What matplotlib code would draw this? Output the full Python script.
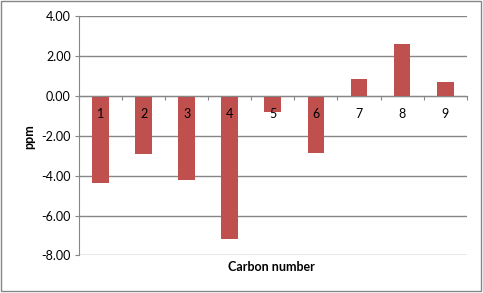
import matplotlib
matplotlib.use("Agg")
import matplotlib.pyplot as plt
import matplotlib.transforms as mtransforms
import numpy as np
from matplotlib.patches import Rectangle

# data
carbons = ["1", "2", "3", "4", "5", "6", "7", "8", "9"]
shifts = [-4.35, -2.93, -4.21, -7.16, -0.82, -2.88, 0.87, 2.64, 0.73]
y_ticks = [-8, -6, -4, -2, 0, 2, 4]

BAR = "#C0504D"
GREY = "#868686"

plt.rcParams["font.family"] = ["Lato", "DejaVu Sans"]

fig = plt.figure(figsize=(4.83, 2.93), dpi=100)
# outer chart border
fig.patches.append(Rectangle((0.003, 0.008), 0.992, 0.988, transform=fig.transFigure,
                             fill=False, edgecolor=GREY, linewidth=1.0))

ax = fig.add_axes([0.1636, 0.128, 0.8026, 0.816])
ax.set_axisbelow(True)
x = np.arange(len(carbons))
ax.bar(x, shifts, width=0.39, color=BAR, zorder=2)

ax.set_xlim(-0.5, len(carbons) - 0.5)
ax.set_ylim(-8, 4)
ax.set_yticks(y_ticks)
ax.set_yticklabels([f"{v:.2f}" for v in y_ticks], fontsize=9)
ax.yaxis.grid(True, color=GREY, linewidth=1.0)

# category axis crosses at zero
ax.spines["bottom"].set_position(("data", 0))
ax.spines["bottom"].set_color(GREY)
ax.spines["bottom"].set_zorder(4)
ax.spines["left"].set_color(GREY)
ax.spines["top"].set_visible(False)
ax.spines["right"].set_visible(False)

ax.set_xticks(np.arange(len(carbons) + 1) - 0.5)
ax.set_xticklabels([])
ax.tick_params(axis="x", which="major", direction="out", length=3, color=GREY)
ax.tick_params(axis="y", direction="out", length=3, color=GREY, pad=3)

# category labels sit just under the zero line, on top of the bars
offset = mtransforms.ScaledTranslation(0, -0.18, fig.dpi_scale_trans)
for xi, lab in zip(x, carbons):
    ax.text(xi, 0, lab, ha="center", va="center", fontsize=9,
            transform=ax.transData + offset, zorder=5)

fig.text(0.563, 0.088, "Carbon number", ha="center", va="center",
         fontsize=9, fontweight="bold")
fig.text(0.06, 0.535, "ppm", ha="center", va="center", rotation=90,
         fontsize=9, fontweight="bold")

fig.savefig("out.png", dpi=100)
